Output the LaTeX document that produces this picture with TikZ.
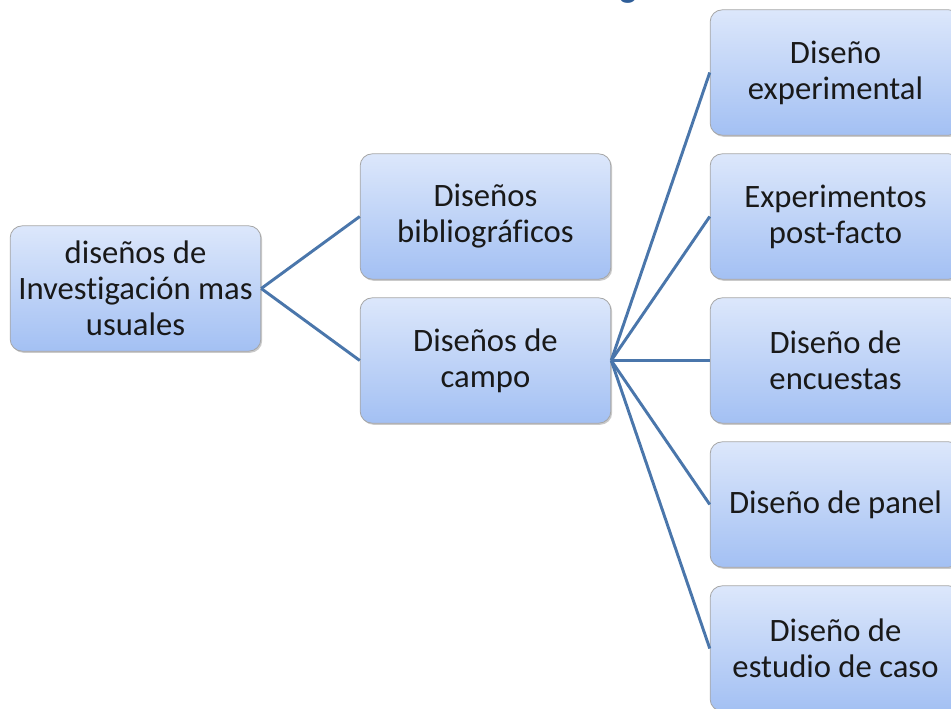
\documentclass[tikz,border=0pt]{standalone}
\usepackage{fontspec}
\setmainfont[Ligatures=NoCommon]{Carlito}
\usetikzlibrary{shadows}

\definecolor{boxtop}{HTML}{DCE7FB}
\definecolor{boxbot}{HTML}{A3C0F3}
\definecolor{linkblue}{HTML}{4A76AB}
\definecolor{titleblue}{HTML}{2F5E99}

\tikzset{
    caja/.style={rounded corners=9pt, draw=black!35, line width=0.6pt,
        top color=boxtop, bottom color=boxbot,
        drop shadow={shadow xshift=1pt, shadow yshift=-1.2pt, opacity=0.35, fill=black!60},
        minimum width=188pt, minimum height=94pt, align=center,
        font=\fontsize{24.5}{27}\selectfont, text=black!90, inner sep=2pt},
    enlace/.style={linkblue, line width=2.2pt}
}

\begin{document}
\begin{tikzpicture}[x=0.75pt, y=-0.75pt]
    \clip (0,0) rectangle (951,708);
    \useasboundingbox (0,0) rectangle (951,708);
    \node[font=\bfseries\fontsize{26}{30}\selectfont, text=titleblue, anchor=base] (titulo) at (628,-3) {g};

    \node[caja] (raiz) at (135.5,288.5) {diseños de\\Investigación mas\\usuales};
    \node[caja] (biblio) at (485.5,216.5) {Diseños\\bibliográficos};
    \node[caja] (campo) at (485.5,360.5) {Diseños de\\campo};

    \node[caja] (experimental) at (835.5,72.5) {Diseño\\experimental};
    \node[caja] (postfacto) at (835.5,216.5) {Experimentos\\post-facto};
    \node[caja] (encuestas) at (835.5,360.5) {Diseño de\\encuestas};
    \node[caja] (panel) at (835.5,504.5) {Diseño de panel};
    \node[caja] (caso) at (835.5,648.5) {Diseño de\\estudio de caso};

    \draw[enlace] (raiz.east) -- (biblio.west);
    \draw[enlace] (raiz.east) -- (campo.west);
    \foreach \hijo in {experimental, postfacto, encuestas, panel, caso}
        \draw[enlace] (campo.east) -- (\hijo.west);
\end{tikzpicture}
\end{document}
